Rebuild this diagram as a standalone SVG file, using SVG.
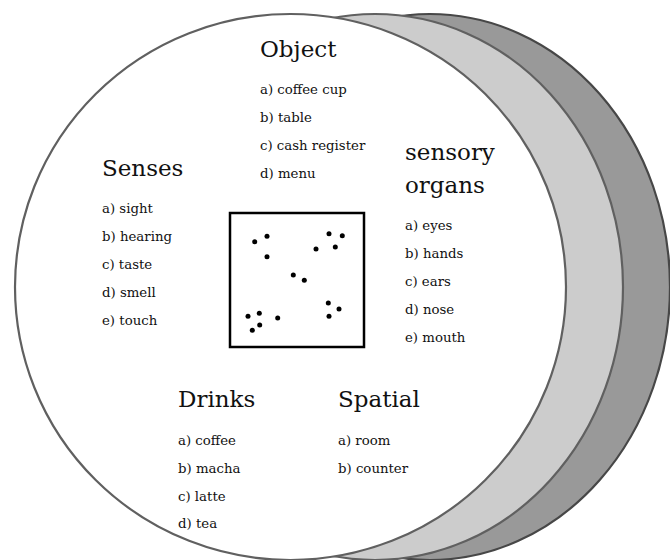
<svg xmlns="http://www.w3.org/2000/svg" width="670" height="560" viewBox="0 0 670 560">
<style>
.sh{stroke:#606060;stroke-width:2.2}
.t{font-family:"DejaVu Serif","Liberation Serif",serif;font-size:23px;fill:#111}
.i{font-family:"DejaVu Serif","Liberation Serif",serif;font-size:13.3px;fill:#111}
.dot{fill:#000}
</style>
<rect width="670" height="560" fill="#fff"/>
<g id="layers">
<ellipse id="dark" class="sh" cx="430" cy="287" rx="240" ry="273" fill="#999" style="stroke:#474747"/>
<ellipse id="light" class="sh" cx="375" cy="287" rx="248" ry="273" fill="#ccc"/>
<ellipse id="white" class="sh" cx="290.5" cy="287" rx="275.5" ry="273" fill="#fff"/>
</g>
<g id="object">
<text class="t" x="260" y="57">Object</text>
<text class="i" x="260" y="94">a) coffee cup</text>
<text class="i" x="260" y="122">b) table</text>
<text class="i" x="260" y="150">c) cash register</text>
<text class="i" x="260" y="178">d) menu</text>
</g>
<g id="senses">
<text class="t" x="102" y="176">Senses</text>
<text class="i" x="102" y="213">a) sight</text>
<text class="i" x="102" y="241">b) hearing</text>
<text class="i" x="102" y="269">c) taste</text>
<text class="i" x="102" y="297">d) smell</text>
<text class="i" x="102" y="325">e) touch</text>
</g>
<g id="organs">
<text class="t" x="405" y="160">sensory</text>
<text class="t" x="405" y="193">organs</text>
<text class="i" x="405" y="230">a) eyes</text>
<text class="i" x="405" y="258">b) hands</text>
<text class="i" x="405" y="286">c) ears</text>
<text class="i" x="405" y="314">d) nose</text>
<text class="i" x="405" y="342">e) mouth</text>
</g>
<g id="drinks">
<text class="t" x="178" y="407">Drinks</text>
<text class="i" x="178" y="445">a) coffee</text>
<text class="i" x="178" y="473">b) macha</text>
<text class="i" x="178" y="501">c) latte</text>
<text class="i" x="178" y="528">d) tea</text>
</g>
<g id="spatial">
<text class="t" x="338" y="407">Spatial</text>
<text class="i" x="338" y="445">a) room</text>
<text class="i" x="338" y="473">b) counter</text>
</g>
<g id="box">
<rect x="230" y="213" width="134" height="134" fill="#fff" stroke="#000" stroke-width="2.5"/>
<g class="dot">
<circle cx="254.7" cy="241.7" r="2.5"/>
<circle cx="267" cy="236.3" r="2.5"/>
<circle cx="267" cy="256.7" r="2.5"/>
<circle cx="316" cy="249" r="2.5"/>
<circle cx="329" cy="233.7" r="2.5"/>
<circle cx="342.3" cy="235.7" r="2.5"/>
<circle cx="335.3" cy="247" r="2.5"/>
<circle cx="293.3" cy="275" r="2.5"/>
<circle cx="304.3" cy="280.3" r="2.5"/>
<circle cx="328.3" cy="303" r="2.5"/>
<circle cx="339" cy="309" r="2.5"/>
<circle cx="329" cy="316.3" r="2.5"/>
<circle cx="248" cy="316.3" r="2.5"/>
<circle cx="259.3" cy="313.3" r="2.5"/>
<circle cx="259.7" cy="325" r="2.5"/>
<circle cx="252.3" cy="330.3" r="2.5"/>
<circle cx="277.7" cy="318" r="2.5"/>
</g>
</g>
<g id="connectors"/>
</svg>
